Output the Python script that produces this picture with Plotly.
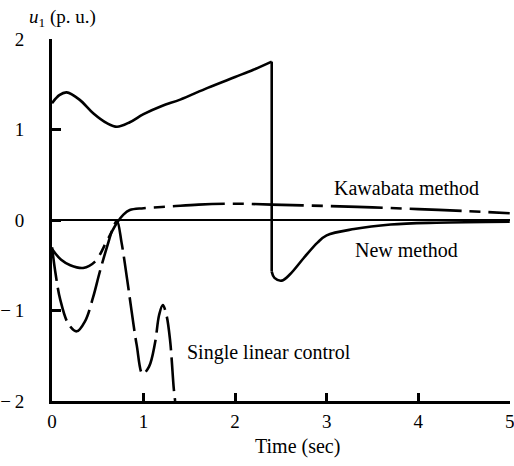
import plotly.graph_objects as go

# Control signal u1 (p.u.) versus time (sec) for three controllers

# New method: rise up to the switching instant, then the decay after the jump
new_rise_t = [0.0, 0.08, 0.16, 0.3, 0.45, 0.6, 0.71, 0.85, 1.0, 1.2, 1.4, 1.7, 2.0, 2.2, 2.4]
new_rise_u = [1.29, 1.38, 1.41, 1.33, 1.18, 1.07, 1.03, 1.08, 1.17, 1.26, 1.33, 1.46, 1.58, 1.66, 1.75]
new_decay_t = [2.4, 2.43, 2.51, 2.6, 2.75, 2.9, 3.0, 3.3, 3.7, 4.2, 5.0]
new_decay_u = [-0.57, -0.64, -0.67, -0.6, -0.42, -0.25, -0.17, -0.1, -0.05, -0.03, -0.02]

# Kawabata method
kaw_t = [0.0, 0.1, 0.2, 0.34, 0.47, 0.6, 0.71, 0.78, 0.85, 1.0, 1.3, 1.6, 2.0, 2.4, 3.0, 3.5, 4.0, 4.5, 5.0]
kaw_u = [-0.32, -0.44, -0.5, -0.53, -0.46, -0.23, -0.03, 0.06, 0.11, 0.13, 0.15, 0.17, 0.18, 0.17, 0.155, 0.14, 0.12, 0.1, 0.074]

# Single linear control
lin_t = [0.0, 0.04, 0.09, 0.18, 0.27, 0.36, 0.45, 0.52, 0.6, 0.67, 0.71, 0.76, 0.82, 0.87,
         0.925, 0.99, 1.06, 1.125, 1.17, 1.21, 1.25, 1.29, 1.33, 1.345]
lin_u = [-0.3, -0.6, -0.88, -1.15, -1.23, -1.12, -0.85, -0.58, -0.3, -0.08, -0.01, -0.25, -0.65, -1.01,
         -1.38, -1.70, -1.62, -1.36, -1.05, -0.94, -1.05, -1.33, -1.86, -2.0]

y_ticks = [2, 1, 0, -1, -2]
y_tick_text = ["2", "1", "0", "\u2212\u20091", "\u2212\u20092"]
x_ticks = [0, 1, 2, 3, 4, 5]
x_tick_text = ["0", "1", "2", "3", "4", "5"]

SERIF = "Liberation Serif, Times New Roman, serif"
INK = "black"

fig = go.Figure()

fig.add_trace(go.Scatter(x=lin_t, y=lin_u, mode="lines", line_shape="spline",
                         line=dict(color=INK, width=2.6, dash="34px,7px")))
fig.add_trace(go.Scatter(x=kaw_t, y=kaw_u, mode="lines", line_shape="spline",
                         line=dict(color=INK, width=2.6, dash="52px,8px,11px,8px")))
fig.add_trace(go.Scatter(x=new_rise_t, y=new_rise_u, mode="lines", line_shape="spline",
                         line=dict(color=INK, width=2.6)))
# vertical jump at the switching instant
fig.add_trace(go.Scatter(x=[new_rise_t[-1], new_decay_t[0]], y=[new_rise_u[-1], new_decay_u[0]],
                         mode="lines", line=dict(color=INK, width=2.6)))
fig.add_trace(go.Scatter(x=new_decay_t, y=new_decay_u, mode="lines", line_shape="spline",
                         line=dict(color=INK, width=2.6)))

fig.update_layout(
    width=514, height=466,
    margin=dict(l=52, r=4, t=39, b=65, autoexpand=False),
    paper_bgcolor="white", plot_bgcolor="white",
    showlegend=False,
    font=dict(family=SERIF, size=19, color=INK),
    xaxis=dict(range=[0, 5.003], tickvals=x_ticks, ticktext=x_tick_text,
               showgrid=False, zeroline=False, automargin=False,
               showline=True, linecolor=INK, linewidth=3,
               ticks="inside", ticklen=8, tickwidth=2.5, tickcolor=INK,
               ticklabelstandoff=1, ticklabeloverflow="allow"),
    yaxis=dict(range=[-2, 2], tickvals=y_ticks, ticktext=y_tick_text,
               showgrid=False, zeroline=True, zerolinecolor=INK, zerolinewidth=2,
               showline=True, linecolor=INK, linewidth=3, automargin=False,
               ticks="inside", ticklen=9, tickwidth=3, tickcolor=INK,
               ticklabelstandoff=21),
)

annotations = [
    dict(text="Kawabata method", x=3.06, y=0.35, xanchor="left", yanchor="middle"),
    dict(text="New method", x=3.29, y=-0.33, xanchor="left", yanchor="middle"),
    dict(text="Single linear control", x=1.45, y=-1.46, xanchor="left", yanchor="middle"),
]
for a in annotations:
    fig.add_annotation(xref="x", yref="y", showarrow=False,
                       font=dict(family=SERIF, size=20, color=INK), **a)

fig.add_annotation(text="Time (sec)", xref="paper", yref="paper", x=0.535, y=-0.125,
                   xanchor="center", yanchor="middle", showarrow=False,
                   font=dict(family=SERIF, size=20, color=INK))
fig.add_annotation(text="<i>u</i><sub>1</sub> (p. u.)", xref="paper", yref="paper",
                   x=-0.055, y=1.058, xanchor="left", yanchor="middle", showarrow=False,
                   font=dict(family=SERIF, size=19, color=INK))

fig.write_html("out.html")
